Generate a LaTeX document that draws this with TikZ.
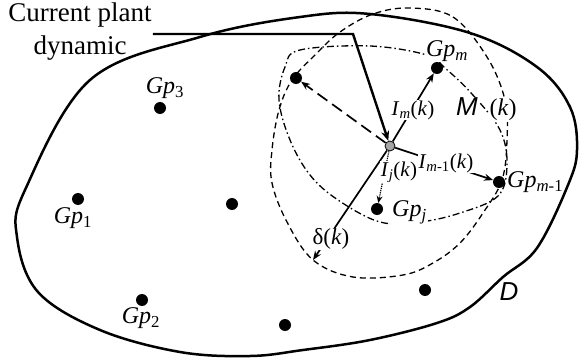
\documentclass[tikz,border=0pt]{standalone}
\usepackage{fontspec}
\setmainfont{Liberation Serif}
\setsansfont{Liberation Sans}
\usetikzlibrary{arrows.meta}

\begin{document}
\begin{tikzpicture}[x=1pt, y=-1pt,
    dot/.style={circle, fill=black, inner sep=0pt, minimum size=12pt},
    lbl/.style={font=\fontsize{24}{28}\selectfont, inner sep=1pt},
    cut/.style={lbl, fill=white},
    dist/.style={cut, font=\fontsize{21}{24}\selectfont, inner sep=0.5pt},
    ray/.style={line width=1.7pt, -{Stealth[open, length=9pt, width=7pt]}},
    region/.style={line width=1.3pt}
]
    \useasboundingbox (0,0) rectangle (579,361);

    % --- set D ---
    \draw[line width=2.5pt] plot[smooth cycle, tension=0.6] coordinates {
        (90,80) (200,37) (300,17) (370,14) (470,33) (537,67) (570,107)
        (577,150) (568,185) (537,248) (503,277) (470,307) (437,323)
        (370,340) (303,350) (250,356) (180,352) (100,330) (38,292)
        (17,237) (25,190)};

    % --- delta neighbourhood and M(k) ---
    \draw[region, dash pattern=on 6pt off 4pt] plot[smooth cycle, tension=0.6] coordinates {
        (410,8) (453,17) (487,57) (505,100) (507,140) (502,180) (483,213)
        (460,243) (433,263) (403,275) (353,277) (313,260) (287,222)
        (272,183) (272,150) (279,110) (292,80) (315,55) (340,32) (373,14)};
    \draw[region, dash pattern=on 7pt off 3pt on 1.5pt off 3pt] plot[smooth cycle, tension=0.6] coordinates {
        (300,50) (370,46) (427,55) (445,68) (472,94) (500,130) (507,165)
        (498,196) (460,213) (420,222) (380,222) (338,200) (310,175)
        (290,140) (279,100) (285,67)};

    % --- models ---
    \node[dot] (g1) at (78,199) {};
    \node[dot] (g2) at (142,300) {};
    \node[dot] (g3) at (160,108) {};
    \node[dot] (g4) at (232,204) {};
    \node[dot] (g5) at (285,325) {};
    \node[dot] (g6) at (425,290) {};
    \node[dot] (ga) at (296,78) {};
    \node[dot] (gm) at (437,68) {};
    \node[dot] (gmm) at (499,182) {};
    \node[dot] (gj) at (377,209) {};
    \node[circle, fill=gray!70, draw=black, line width=0.8pt, minimum size=10pt, inner sep=0pt] (c) at (390,146) {};
    \coordinate (dpt) at (313,260);

    % --- current plant ---
    \node[lbl, font=\fontsize{27}{33}\selectfont, align=center] (cur) at (80,32) {Current plant\\dynamic};
    \coordinate (bend) at (353,34);
    \draw[line width=2.4pt, -{Stealth[open, length=10pt, width=8pt]}] (cur.east |- bend) -- (bend) -- (c);

    % --- distances ---
    \draw[ray, dash pattern=on 12pt off 6pt] (c) -- (ga);
    \draw[ray] (c) -- (gm);
    \draw[ray] (c) -- (gmm);
    \draw[line width=1.2pt, densely dotted, -{Stealth[open, length=7pt, width=6pt]}] (c) -- (gj);
    \draw[ray] (c) -- (dpt);

    \node[dist] (im) at (413,110) {\textit{I}\textsubscript{\textit{m}}(\textit{k})};
    \node[dist] (imm) at (446,163) {\textit{I}\textsubscript{\textit{m}-1}(\textit{k})};
    \node[dist] (ij) at (399,172) {\textit{I}\textsubscript{\textit{j}}(\textit{k})};
    \node[dist, font=\fontsize{23}{26}\selectfont] (dk) at (331,239) {δ(\textit{k})};

    % --- labels ---
    \node[lbl] (l1) at (73,218) {\textit{Gp}\textsubscript{1}};
    \node[lbl] (l2) at (141,318) {\textit{Gp}\textsubscript{2}};
    \node[lbl] (l3) at (165,88) {\textit{Gp}\textsubscript{3}};
    \node[cut] (lm) at (447,51) {\textit{Gp}\textsubscript{\textit{m}}};
    \node[lbl, anchor=west] (lmm) at (506,182) {\textit{Gp}\textsubscript{\textit{m}-1}};
    \node[cut, anchor=west] (lj) at (391,212) {\textit{Gp}\textsubscript{\textit{j}}};
    \node[cut, font=\fontsize{26}{28}\selectfont\sffamily\itshape] (mk) at (467,107) {M};
    \node[cut] (kk) at (503,110) {(\textit{k})};
    \node[lbl, font=\fontsize{26}{28}\selectfont\sffamily\itshape] (dd) at (509,292) {D};

\end{tikzpicture}
\end{document}
